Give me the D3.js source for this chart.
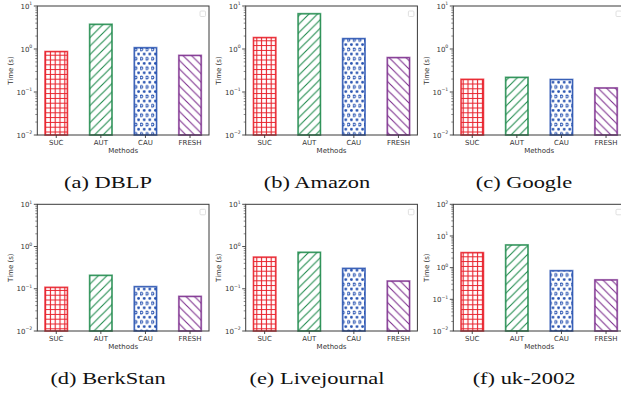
<!DOCTYPE html>
<html>
<head>
<meta charset="utf-8">
<script src="https://cdn.jsdelivr.net/npm/d3@7"></script>
<style>
  html, body { margin: 0; padding: 0; background: #fff; }
  svg { display: block; }
</style>
</head>
<body>
<svg id="chart" width="621" height="398"></svg>
<script>
// ---- data ----
const methods = ["SUC", "AUT", "CAU", "FRESH"];
const captions = ["(a) DBLP", "(b) Amazon", "(c) Google", "(d) BerkStan", "(e) Livejournal", "(f) uk-2002"];
const dblp = [0.87, 3.75, 1.07, 0.71];
const amazon = [1.84, 6.6, 1.74, 0.63];
const google = [0.197, 0.219, 0.195, 0.124];
const berkstan = [0.108, 0.208, 0.112, 0.066];
const livejournal = [0.56, 0.73, 0.304, 0.152];
const uk2002 = [2.97, 5.2, 0.80, 0.41];
const yMaxExps = [1, 1, 1, 1, 1, 2];
const yMinExp = -2;
const yLabel = "Time (s)";
const xLabel = "Methods";

const series = [dblp, amazon, google, berkstan, livejournal, uk2002];

// ---- style ----
const colors = ["#e8212b", "#1f8a4c", "#2752b0", "#7d2f8e"];
const hatches = ["grid", "fwd", "dots", "back"];

const svg = d3.select("#chart");
const defs = svg.append("defs");

function makePattern(id, kind, color) {
  if (kind === "grid") {
    const s = 4.8;
    const p = defs.append("pattern").attr("id", id).attr("patternUnits", "userSpaceOnUse")
      .attr("width", s).attr("height", s);
    p.append("rect").attr("width", s).attr("height", s).attr("fill", "#fff");
    p.append("path").attr("d", `M${s/2},0V${s}M0,${s/2}H${s}`)
      .attr("stroke", color).attr("stroke-width", 1.1).attr("fill", "none");
  } else if (kind === "fwd" || kind === "back") {
    const s = 8.5;
    const p = defs.append("pattern").attr("id", id).attr("patternUnits", "userSpaceOnUse")
      .attr("width", s).attr("height", s);
    p.append("rect").attr("width", s).attr("height", s).attr("fill", "#fff");
    const d = kind === "fwd"
      ? `M0,${s}L${s},0M${-s/2},${s/2}L${s/2},${-s/2}M${s/2},${s*1.5}L${s*1.5},${s/2}`
      : `M0,0L${s},${s}M${-s/2},${s/2}L${s/2},${s*1.5}M${s/2},${-s/2}L${s*1.5},${s/2}`;
    p.append("path").attr("d", d).attr("stroke", color).attr("stroke-width", 1.1).attr("fill", "none");
  } else if (kind === "dots") {
    const w = 5.6, h = 9.4;
    const p = defs.append("pattern").attr("id", id).attr("patternUnits", "userSpaceOnUse")
      .attr("width", w).attr("height", h);
    p.append("rect").attr("width", w).attr("height", h).attr("fill", "#fff");
    p.append("circle").attr("cx", w * 0.25).attr("cy", h * 0.25).attr("r", 1.3)
      .attr("fill", "#fff").attr("stroke", color).attr("stroke-width", 1);
    p.append("circle").attr("cx", w * 0.75).attr("cy", h * 0.75).attr("r", 1.4)
      .attr("fill", color);
  }
}
hatches.forEach((h, i) => makePattern("hatch" + i, h, colors[i]));

// ---- layout ----
const colLeft = [37.3, 245.7, 453.3];
const plotW = 171.7;
const rowTop = [6, 204.3];
const rowBottom = [135, 331];
const captionX = [108, 317, 524];
const captionY = [188, 384];

const fontSans = "'DejaVu Sans', sans-serif";
const textColor = "#333";
const axisColor = "#3a3a3a";
const supMap = {"-": "\u2212"};

series.forEach((vals, idx) => {
  const col = idx % 3, row = Math.floor(idx / 3);
  const left = colLeft[col], right = left + plotW;
  const top = rowTop[row], bottom = rowBottom[row];
  const g = svg.append("g");

  const x = d3.scaleLinear().domain([-0.425, 3.425]).range([left, right]);
  const y = d3.scaleLog().domain([Math.pow(10, yMinExp), Math.pow(10, yMaxExps[idx])]).range([bottom, top]);
  const barW = x(0.5) - x(0);

  // bars
  vals.forEach((v, i) => {
    const bx = x(i) - barW / 2;
    g.append("rect").attr("x", bx).attr("y", y(v)).attr("width", barW).attr("height", bottom - y(v))
      .attr("fill", `url(#hatch${i})`);
    g.append("rect").attr("x", bx).attr("y", y(v)).attr("width", barW).attr("height", bottom - y(v))
      .attr("fill", "none").attr("stroke", colors[i]).attr("stroke-opacity", 0.55).attr("stroke-width", 2);
    g.append("rect").attr("x", bx).attr("y", y(v)).attr("width", barW).attr("height", bottom - y(v))
      .attr("fill", "none").attr("stroke", colors[i]).attr("stroke-width", 0.8);
  });

  // y axis ticks (major + minor)
  const yAxisG = g.append("g");
  for (let e = yMinExp; e <= yMaxExps[idx]; e++) {
    const ty = y(Math.pow(10, e));
    yAxisG.append("line").attr("x1", left - 3.5).attr("x2", left).attr("y1", ty).attr("y2", ty)
      .attr("stroke", axisColor).attr("stroke-width", 0.9);
    const t = yAxisG.append("text").attr("x", left - 5).attr("y", ty + 2.6)
      .attr("text-anchor", "end").attr("font-family", fontSans).attr("font-size", 7).attr("fill", textColor);
    t.append("tspan").text("10");
    t.append("tspan").attr("dy", -3.2).attr("font-size", 4.6)
      .text(String(e).split("").map(c => supMap[c] || c).join(""));
    if (e < yMaxExps[idx]) {
      for (let m = 2; m <= 9; m++) {
        const my = y(m * Math.pow(10, e));
        yAxisG.append("line").attr("x1", left - 2).attr("x2", left).attr("y1", my).attr("y2", my)
          .attr("stroke", axisColor).attr("stroke-width", 0.6);
      }
    }
  }

  // x axis ticks
  methods.forEach((m, i) => {
    g.append("line").attr("x1", x(i)).attr("x2", x(i)).attr("y1", bottom).attr("y2", bottom + 3)
      .attr("stroke", axisColor).attr("stroke-width", 0.9);
    g.append("text").attr("x", x(i)).attr("y", bottom + 9.5).attr("text-anchor", "middle")
      .attr("font-family", fontSans).attr("font-size", 7).attr("fill", textColor).text(m);
  });

  // frame
  g.append("rect").attr("x", left).attr("y", top).attr("width", plotW).attr("height", bottom - top)
    .attr("fill", "none").attr("stroke", axisColor).attr("stroke-width", 1);

  // empty legend box
  g.append("rect").attr("x", right - 9).attr("y", top + 5).attr("width", 5.5).attr("height", 5.5)
    .attr("rx", 1).attr("fill", "#fff").attr("stroke", "#d8d8d8").attr("stroke-width", 0.8);

  // axis labels
  g.append("text").attr("x", (left + right) / 2).attr("y", bottom + 18).attr("text-anchor", "middle")
    .attr("font-family", fontSans).attr("font-size", 7).attr("fill", textColor).text(xLabel);
  g.append("text").attr("transform", `translate(${left - 24.5},${(top + bottom) / 2}) rotate(-90)`)
    .attr("text-anchor", "middle").attr("font-family", fontSans).attr("font-size", 7).attr("fill", textColor)
    .text(yLabel);

  // caption (serif, horizontally widened like the reference)
  svg.append("text")
    .attr("transform", `translate(${captionX[col]},${captionY[row]}) scale(1.32,1)`)
    .attr("text-anchor", "middle")
    .attr("font-family", "'Liberation Serif', 'Times New Roman', serif").attr("font-size", 17)
    .attr("fill", "#111").text(captions[idx]);
});
</script>
</body>
</html>
